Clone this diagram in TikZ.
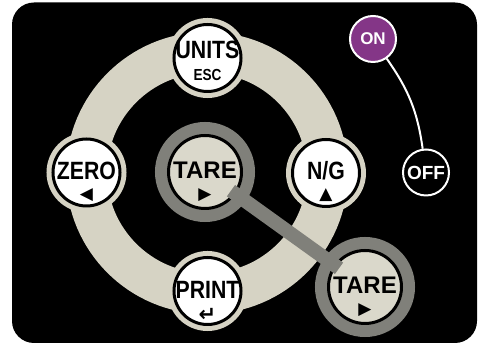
\documentclass[tikz,border=0pt]{standalone}
\usepackage{fontspec}
\usepackage{tikz}
\usetikzlibrary{calc}
\newfontfamily\kpfont[FakeStretch=0.85]{Liberation Sans}
\newfontfamily\kpwide{Liberation Sans}
\newfontfamily\kpsym{DejaVu Sans}
\definecolor{kpbeige}{RGB}{214,211,196}
\definecolor{kptarefill}{RGB}{218,216,203}
\definecolor{kpgray}{RGB}{128,128,122}
\definecolor{kppurple}{RGB}{132,54,135}
\tikzset{
  kpbody/.style={fill=black, rounded corners=22pt},
  kpring/.style={draw=kpbeige, line width=41pt},
  kpkey/.style={circle, minimum size=67pt, inner sep=0pt, fill=white, draw=black, line width=3pt, preaction={draw=kpbeige, line width=13pt}},
  kptarekey/.style={circle, minimum size=73pt, inner sep=0pt, fill=kptarefill, draw=black, line width=3pt, preaction={draw=kpgray, line width=27pt}},
  kplabel/.style={inner sep=0pt, font=\kpfont\bfseries\fontsize{25}{25}\selectfont},
  kpsub/.style={inner sep=0pt, font=\kpsym\fontsize{17}{17}\selectfont},
  kpbar/.style={draw=kpgray, line width=14pt, shorten <=-6pt, shorten >=-6pt},
  kpswitch/.style={circle, minimum size=46pt, inner sep=0pt, draw=white, line width=2pt, text=white},
  kpwire/.style={draw=white, line width=2pt}
}
\newcommand{\kpkey}[5] {\node at (#1) (#2) [kpkey] {}; \node at ($(#2)+(0,#5)$) (#2-lbl) [kplabel] {#3}; \node at ($(#2)+(0,#5-25)$) (#2-sub) [kpsub] {#4};}
\newcommand{\kptare}[2] {\node at (#1) (#2) [kptarekey] {}; \node at ($(#2)+(0,1.5)$) (#2-lbl) [kplabel] {\kpwide\bfseries\fontsize{24}{24}\selectfont TARE}; \node at ($(#2)+(0,-23)$) (#2-sub) [kpsub] {▶};}

\begin{document}
\begin{tikzpicture}[x=1pt, y=1pt]
\useasboundingbox (0,0) rectangle (480,347);
\fill [white] (0,0) rectangle (480,347);
\fill [kpbody] (12,4) rectangle (477,344.5);

% ring of keys
\coordinate (hub) at (207,174);
\draw [kpring] (hub) circle [radius=120.5pt];
\kpkey {207.5,289} {units} {UNITS} {\kpfont\bfseries\fontsize{16}{16}\selectfont ESC} {8};
\kpkey {86.5,174.5} {zero} {ZERO} {◀} {2};
\kpkey {326,174} {ng} {N/G} {▲} {2.5};
\kpkey {207.5,56} {print} {PRINT} {\bfseries\fontsize{21}{21}\selectfont ↵} {1};

% tare, middle and lower right
\kptare {205,175} {tare}
\kptare {365,60} {tarex}
\draw [kpbar] (tare) -- (tarex);

% on / off
\node at (373,308) (on) [kpswitch, fill=kppurple, font=\kpwide\bfseries\fontsize{17}{17}\selectfont] {ON};
\node at (426,174.5) (off) [kpswitch, fill=black, font=\kpwide\bfseries\fontsize{19}{19}\selectfont] {OFF};
\draw [kpwire] (on) to [out=-55, in=98] (off);
\end{tikzpicture}
\end{document}
